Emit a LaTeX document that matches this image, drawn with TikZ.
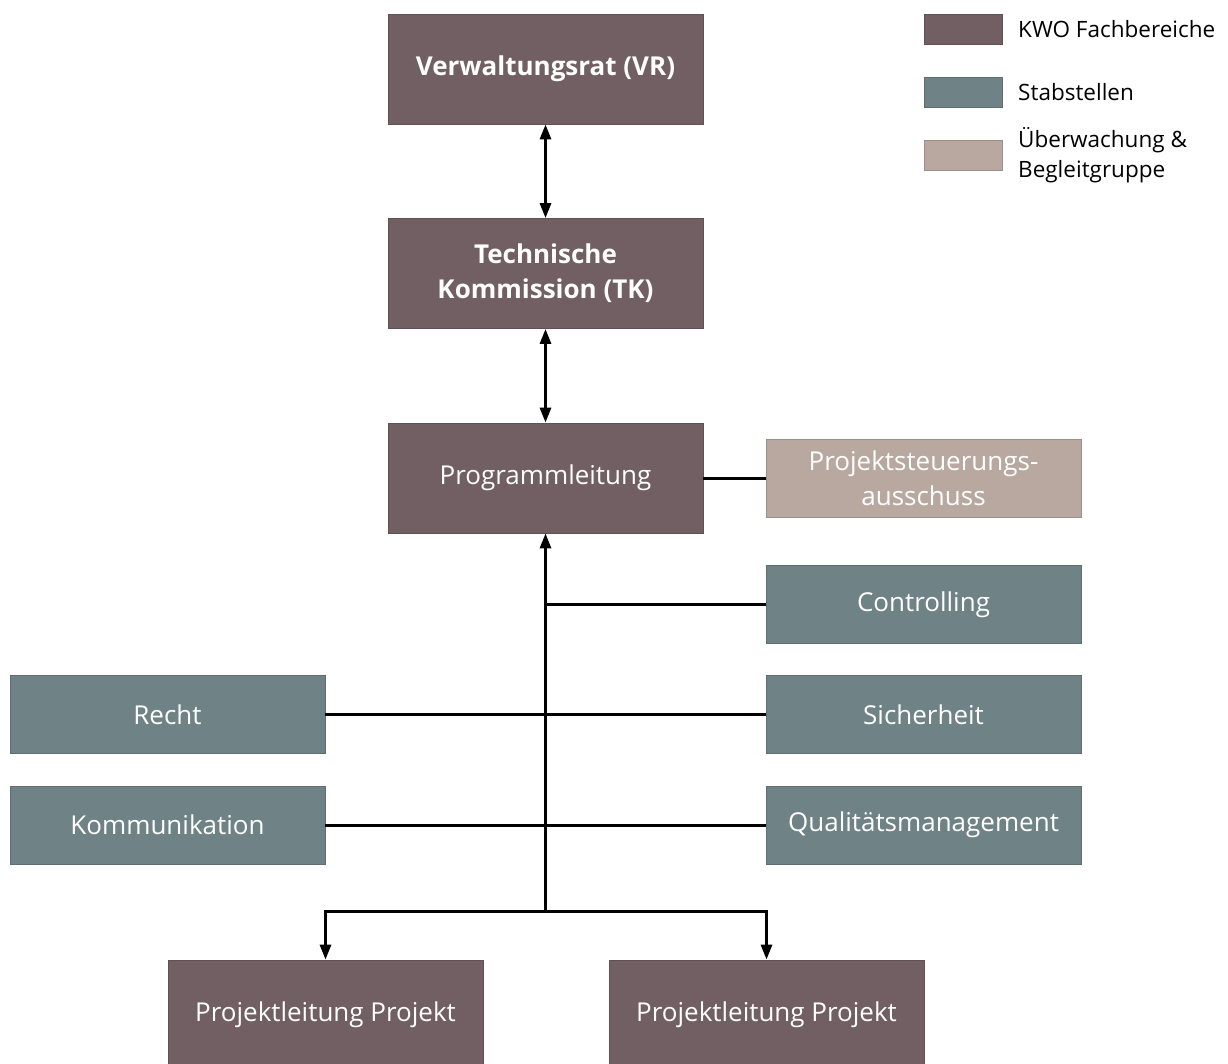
\documentclass[tikz,border=0pt]{standalone}
\usepackage{fontspec}
\setmainfont{Open Sans}
\usetikzlibrary{arrows.meta}
\definecolor{kwo}{HTML}{715F63}
\definecolor{stab}{HTML}{6F8285}
\definecolor{ueb}{HTML}{B8A89F}
\tikzset{
  x=1pt, y=-1pt,
  box/.style={rectangle, draw=#1!85!black, line width=0.8pt, fill=#1, text=white, minimum width=315pt, minimum height=78pt, align=center, font=\fontsize{26}{35}\selectfont, inner sep=0pt},
  bigbox/.style={box=kwo, minimum height=110pt},
  legbox/.style={rectangle, draw=#1!85!black, line width=0.8pt, fill=#1, minimum width=78pt, minimum height=30pt, inner sep=0pt},
  legtext/.style={anchor=west, align=left, font=\fontsize{22.5}{30}\selectfont, text=black, inner sep=0pt},
  conn/.style={line width=3pt, draw=black},
  arr/.style={conn, -{Triangle[length=15pt, width=11pt]}},
  darr/.style={conn, {Triangle[length=15pt, width=11pt]}-{Triangle[length=15pt, width=11pt]}}
}
\begin{document}
\begin{tikzpicture}
\useasboundingbox[fill=white] (0,0) rectangle (1228,1064);
% main chain
\node[bigbox] (vr) at (545.5,69) {\textbf{Verwaltungsrat (VR)}};
\node[bigbox] (tk) at (545.5,273.5) {\textbf{Technische}\\\textbf{Kommission (TK)}};
\node[bigbox] (pl) at (545.5,478) {Programmleitung};
% right side
\node[box=ueb] (psa) at (923.5,478) {Projektsteuerungs-\\ausschuss};
\node[box=stab] (ctrl) at (923.5,604.5) {Controlling};
\node[box=stab] (sich) at (923.5,714.5) {Sicherheit};
\node[box=stab] (qm) at (923.5,825) {Qualitätsmanagement};
% left side
\node[box=stab] (recht) at (167.5,714.5) {Recht};
\node[box=stab] (komm) at (167.5,825) {Kommunikation};
% bottom
\node[bigbox] (plp1) at (325.5,1015) {Projektleitung Projekt};
\node[bigbox] (plp2) at (766.5,1015) {Projektleitung Projekt};
% legend
\node[legbox=kwo] (l1) at (963,29) {};
\node[legbox=stab] (l2) at (963,92) {};
\node[legbox=ueb] (l3) at (963,155) {};
\node[legtext] (t1) at (1018,29) {KWO Fachbereiche};
\node[legtext] (t2) at (1018,92) {Stabstellen};
\node[legtext] (t3) at (1018,155) {Überwachung \&\\Begleitgruppe};
% connectors
\coordinate (j) at (545.5,911);
\draw[darr] (vr.south) -- (tk.north);
\draw[darr] (tk.south) -- (pl.north);
\draw[conn] (pl.east) -- (psa.west);
\draw[arr] (j) -- (pl.south);
\draw[conn] (pl.south |- ctrl.west) -- (ctrl.west);
\draw[conn] (recht.east) -- (sich.west);
\draw[conn] (komm.east) -- (qm.west);
\draw[arr] (j) -| (plp1.north);
\draw[arr] (j) -| (plp2.north);
\end{tikzpicture}
\end{document}
